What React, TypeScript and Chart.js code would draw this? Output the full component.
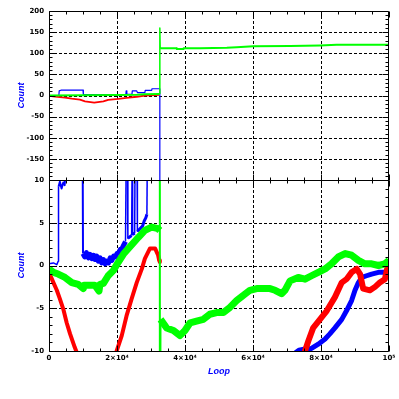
import React, { useEffect, useRef } from 'react';
import { Chart, registerables } from 'chart.js';

Chart.register(...registerables);

const BLUE = '#0000ff';
const RED = '#ff0000';
const GREEN = '#00ff00';

// ---- axis ticks ----
const xTickValues = [0, 20000, 40000, 60000, 80000, 100000];
const xTickLabels = ['0', '2×10⁴', '4×10⁴', '6×10⁴', '8×10⁴', '10⁵'];

// ---- top panel (Count, -200..200) ----
const topBlueLoop = [0, 2900, 3000, 3500, 10000, 10100, 22600, 22700, 22900, 24400, 24500, 25800, 26000, 28200, 28300, 30200, 30300, 32600, 32600];
const topBlueCount = [0, 0, 11, 12.5, 12.5, 2.3, 3, 11, 3, 3, 11, 11, 7, 7, 12, 12, 16, 16, -260];

const topRedLoop = [0, 1800, 4700, 6700, 9100, 10600, 13300, 16000, 17400, 20400, 22800, 25800, 28200, 32500];
const topRedCount = [-1, -2.5, -5, -7.5, -10, -14, -17, -14, -10.5, -8, -5.5, -3, 0, 1.8];

const topGreenLoop = [0, 10000, 20000, 26000, 28000, 32600, 32600, 32700, 37500, 37600, 39500, 39600, 44400, 52300, 55200, 60100, 70900, 79700, 84600, 100000];
const topGreenCount = [0, 0.5, 1, 1.5, 3, 3.5, 160, 112, 112, 110, 110, 112, 112, 113, 114, 116.5, 117, 118.5, 120, 120];

// ---- bottom panel (Count, -10..10) ----
const botBlueLoop = [
  0, 1300, 2300, 2700, 2800, 3200, 3700, 4200, 4600, 4800, 5000, 9900,
  10000, 10500, 11000, 11600, 12100, 12600, 13100, 13500, 14000, 14500, 15000, 15500, 16000, 16500, 17000, 17500, 18000, 18500, 19000, 19500, 20000, 20500, 21000, 21500, 22000, 22500,
  22700, 23000, 23200, 24300, 24450, 24600, 25200, 25300, 25900, 26000, 26500, 27500, 28000, 28500, 28800, 28900, 32600, 32600,
  71500, 72500, 73500, 75000, 77200, 79200, 81200, 82600, 84100, 86100, 87500, 89000, 90000, 91000, 92000, 93400, 94900, 96900, 98800, 100000,
];
const botBlueCount = [
  0.2, 0.3, 0.1, 0.5, 9.2, 9.8, 9.0, 9.7, 9.4, 10.5, 13, 13,
  1.4, 1.0, 1.5, 0.9, 1.3, 0.8, 1.2, 0.7, 1.1, 0.5, 0.9, 0.3, 0.7, 0.2, 0.5, 0.3, 0.9, 0.6, 1.1, 1.0, 1.4, 1.5, 1.9, 2.0, 2.4, 2.8,
  12, 12, 3.2, 3.5, 12, 3.6, 3.8, 12, 12, 4.0, 4.2, 4.6, 5.2, 5.6, 6.0, 12, 16, -30,
  -30, -10.2, -9.9, -9.8, -9.7, -9.2, -8.6, -8.0, -7.3, -6.3, -5.3, -4.1, -2.9, -2.0, -1.4, -1.2, -1.0, -0.8, -0.8, -0.6,
];

const botRedLoop = [
  0, 1300, 2300, 3200, 4200, 5200, 6200, 7600, 8300, 9000,
  19000, 19900, 21400, 22800, 24300, 25800, 27300, 28200, 29700, 31200,
  32100, 32400, 32600, 32600, 74500, 75300, 76300, 77700, 79700, 81700, 84100,
  86100, 87500, 89000, 90500, 91500, 92400, 94400, 95900, 97300, 98800, 100000,
];
const botRedCount = [
  -0.8, -2.0, -2.9, -3.9, -5.1, -6.7, -8.0, -9.6, -10.3, -13,
  -13, -10, -8.2, -5.9, -3.9, -2.0, -0.4, 0.8, 2.0, 2.0,
  1.2, 0.6, 0.4, -30, -11, -10, -8.8, -7.3, -6.3, -5.3, -3.7,
  -2.0, -1.6, -0.8, -0.4, -1.0, -2.7, -2.9, -2.5, -2.0, -1.6, 0.6,
];

const botGreenLoop = [
  0, 1300, 2700, 4700, 6700, 8600, 10100, 10300, 11600, 13500,
  14700, 15000, 16000, 17400, 18900, 20400, 22000, 24300, 26300, 28200,
  30200, 32100, 32600, 32600, 32600, 32800, 34600, 36600, 38500, 40000,
  41500, 43400, 45400, 47300, 49300, 51300, 53200, 55200, 57100, 59100,
  61100, 63000, 65000, 66500, 68400, 69400, 70900, 73300, 75300, 77200,
  79200, 81200, 83100, 85100, 87100, 89000, 91000, 92900, 94900, 96900,
  98800, 100000,
];
const botGreenCount = [
  -0.4, -0.8, -1.0, -1.4, -2.0, -2.2, -2.7, -2.3, -2.3, -2.3,
  -3.0, -2.2, -2.1, -1.2, -0.6, 0.4, 1.4, 2.4, 3.3, 4.1,
  4.5, 4.3, 4.1, 30, -30, -6.3, -7.3, -7.6, -8.2, -7.6,
  -6.7, -6.5, -6.3, -5.7, -5.5, -5.5, -4.9, -4.1, -3.5, -2.9,
  -2.7, -2.7, -2.7, -2.9, -3.3, -2.9, -1.8, -1.4, -1.6, -1.2,
  -0.8, -0.4, 0.2, 1.0, 1.4, 1.2, 0.6, 0.2, 0.2, 0.0,
  0.2, 0.6,
];

function pts(xs: number[], ys: number[]) {
  return xs.map((x, i) => ({ x, y: ys[i] }));
}

const tickFont = { family: 'DejaVu Sans', size: 7, weight: 'bold' as const };
const titleFont = { family: 'Liberation Sans', size: 9, style: 'italic' as const, weight: 'bold' as const };

function framePlugin(xMinor: number, xMajor: number, yMinor: number, yMajor: number) {
  return {
    id: 'frame',
    beforeDatasetsDraw(chart: any) {
      const { ctx, chartArea: a } = chart;
      const xs = chart.scales.x;
      const ys = chart.scales.y;
      ctx.save();
      ctx.strokeStyle = '#000';
      ctx.lineWidth = 1;
      ctx.setLineDash([3, 2]);
      ctx.beginPath();
      for (let v = xs.min + xMajor; v < xs.max - 1e-6; v += xMajor) {
        const p = Math.round(xs.getPixelForValue(v)) + 0.5;
        ctx.moveTo(p, a.top);
        ctx.lineTo(p, a.bottom);
      }
      for (let v = ys.min + yMajor; v < ys.max - 1e-6; v += yMajor) {
        const p = Math.round(ys.getPixelForValue(v)) + 0.5;
        ctx.moveTo(a.left, p);
        ctx.lineTo(a.right, p);
      }
      ctx.stroke();
      ctx.restore();
    },
    afterDatasetsDraw(chart: any) {
      const { ctx, chartArea: a } = chart;
      const xs = chart.scales.x;
      const ys = chart.scales.y;
      const L = Math.round(a.left) + 0.5;
      const R = Math.round(a.right) - 0.5;
      const T = Math.round(a.top) + 0.5;
      const B = Math.round(a.bottom) + 0.5;
      ctx.save();
      ctx.strokeStyle = '#000';
      ctx.lineWidth = 1;
      ctx.setLineDash([]);
      ctx.beginPath();
      ctx.moveTo(L, T); ctx.lineTo(R, T); ctx.lineTo(R, B); ctx.lineTo(L, B); ctx.closePath();
      const nx = Math.round((xs.max - xs.min) / xMinor);
      for (let i = 0; i <= nx; i++) {
        const v = xs.min + i * xMinor;
        const len = Math.abs(v / xMajor - Math.round(v / xMajor)) < 1e-6 ? 6 : 3;
        const p = Math.round(xs.getPixelForValue(v)) + 0.5;
        ctx.moveTo(p, T); ctx.lineTo(p, T + len);
        ctx.moveTo(p, B); ctx.lineTo(p, B - len);
      }
      const ny = Math.round((ys.max - ys.min) / yMinor);
      for (let i = 0; i <= ny; i++) {
        const v = ys.min + i * yMinor;
        const len = Math.abs(v / yMajor - Math.round(v / yMajor)) < 1e-6 ? 6 : 3;
        const p = Math.round(ys.getPixelForValue(v)) + 0.5;
        ctx.moveTo(L, p); ctx.lineTo(L + len, p);
        ctx.moveTo(R, p); ctx.lineTo(R - len, p);
      }
      ctx.stroke();
      ctx.restore();
    },
  };
}

const yTitle = {
  display: true,
  text: 'Count',
  color: BLUE,
  font: titleFont,
  padding: { top: 16, bottom: 16 },
};

const hiddenGrid = { display: false, drawTicks: false };
const HIDDEN = 'rgba(0,0,0,0)';

export default function App() {
  const topRef = useRef<HTMLCanvasElement>(null);
  const botRef = useRef<HTMLCanvasElement>(null);

  useEffect(() => {
    const common = {
      animation: false as const,
      responsive: false,
      events: [] as any[],
      plugins: { legend: { display: false }, tooltip: { enabled: false } },
      elements: { point: { radius: 0 }, line: { tension: 0, borderJoinStyle: 'round' as const } },
    };

    const top = new Chart(topRef.current!, {
      type: 'line',
      data: {
        datasets: [
          {
            data: pts(topGreenLoop, topGreenCount),
            borderColor: GREEN,
            borderWidth: 2,
            clip: 0,
            segment: { borderWidth: (c: any) => (Math.abs(c.p1.parsed.y - c.p0.parsed.y) > 30 ? 1.5 : undefined) },
          },
          { data: pts(topRedLoop, topRedCount), borderColor: RED, borderWidth: 1.8, clip: 0 },
          { data: pts(topBlueLoop, topBlueCount), borderColor: BLUE, borderWidth: 1.2, clip: 0 },
        ],
      },
      options: {
        ...common,
        layout: { padding: { top: 11, bottom: 10, left: 0, right: 10 } },
        scales: {
          x: {
            type: 'linear', min: 0, max: 100000,
            afterFit: (s: any) => { s.height = 0; },
            grid: hiddenGrid, border: { display: false },
            ticks: { display: false, stepSize: 20000 },
          },
          y: {
            type: 'linear', min: -200, max: 200,
            afterFit: (s: any) => { s.width = 49; },
            grid: hiddenGrid, border: { display: false },
            ticks: {
              stepSize: 50, autoSkip: false, padding: 5, color: '#000', font: tickFont,
              callback: (v: any) => (v === -200 ? '' : String(v)),
            },
            title: yTitle,
          },
        },
      },
      plugins: [framePlugin(5000, 20000, 10, 50)],
    } as any);

    // segments that fall straight off the scale at the reset are hidden behind the green jump
    const offScaleDrop = (c: any) =>
      c.p0.parsed.x === c.p1.parsed.x && Math.abs(c.p1.parsed.y - c.p0.parsed.y) > 15 ? HIDDEN : undefined;

    const bot = new Chart(botRef.current!, {
      type: 'line',
      data: {
        datasets: [
          {
            data: pts(botGreenLoop, botGreenCount),
            borderColor: GREEN,
            borderWidth: 7,
            clip: 0,
            segment: { borderWidth: (c: any) => (Math.abs(c.p1.parsed.y - c.p0.parsed.y) > 20 ? 2 : undefined) },
          },
          {
            data: pts(botRedLoop, botRedCount),
            borderColor: RED,
            borderWidth: 4,
            clip: 0,
            segment: {
              borderColor: offScaleDrop,
              borderWidth: (c: any) =>
                Math.abs(c.p1.parsed.y - c.p0.parsed.y) > 15 ? 1 : c.p0.parsed.x > 50000 ? 6 : 4,
            },
          },
          {
            data: pts(botBlueLoop, botBlueCount),
            borderColor: BLUE,
            borderWidth: 2,
            clip: 0,
            segment: {
              borderColor: offScaleDrop,
              borderWidth: (c: any) => {
                const x0 = c.p0.parsed.x;
                const dy = Math.abs(c.p1.parsed.y - c.p0.parsed.y);
                if (x0 < 2750) return 1.5;
                if (x0 < 9950) return 2;
                if (x0 < 22500) return 5;
                if (x0 < 32600) return dy > 5 ? 1.5 : 3;
                return dy > 15 ? 1 : 5;
              },
            },
          },
        ],
      },
      options: {
        ...common,
        layout: { padding: { top: 10, bottom: 0, left: 0, right: 10 } },
        scales: {
          x: {
            type: 'linear', min: 0, max: 100000,
            afterFit: (s: any) => { s.height = 48; },
            grid: hiddenGrid, border: { display: false },
            ticks: {
              stepSize: 20000, autoSkip: false, maxRotation: 0, padding: 3, color: '#000', font: tickFont,
              callback: (v: any) => {
                const i = xTickValues.indexOf(v);
                return i >= 0 ? xTickLabels[i] : '';
              },
            },
            title: { display: true, text: 'Loop', color: BLUE, font: titleFont, padding: { top: 0, bottom: 22 } },
          },
          y: {
            type: 'linear', min: -10, max: 10,
            afterFit: (s: any) => { s.width = 49; },
            grid: hiddenGrid, border: { display: false },
            ticks: { stepSize: 5, autoSkip: false, padding: 5, color: '#000', font: tickFont },
            title: yTitle,
          },
        },
      },
      plugins: [framePlugin(5000, 20000, 1, 5)],
    } as any);

    return () => {
      top.destroy();
      bot.destroy();
    };
  }, []);

  return (
    <div style={{ position: 'fixed', left: 0, top: 0, width: 399, height: 399, background: '#fff' }}>
      <canvas ref={topRef} width={399} height={190} style={{ position: 'absolute', left: 0, top: 0 }} />
      <canvas ref={botRef} width={399} height={229} style={{ position: 'absolute', left: 0, top: 170 }} />
    </div>
  );
}
